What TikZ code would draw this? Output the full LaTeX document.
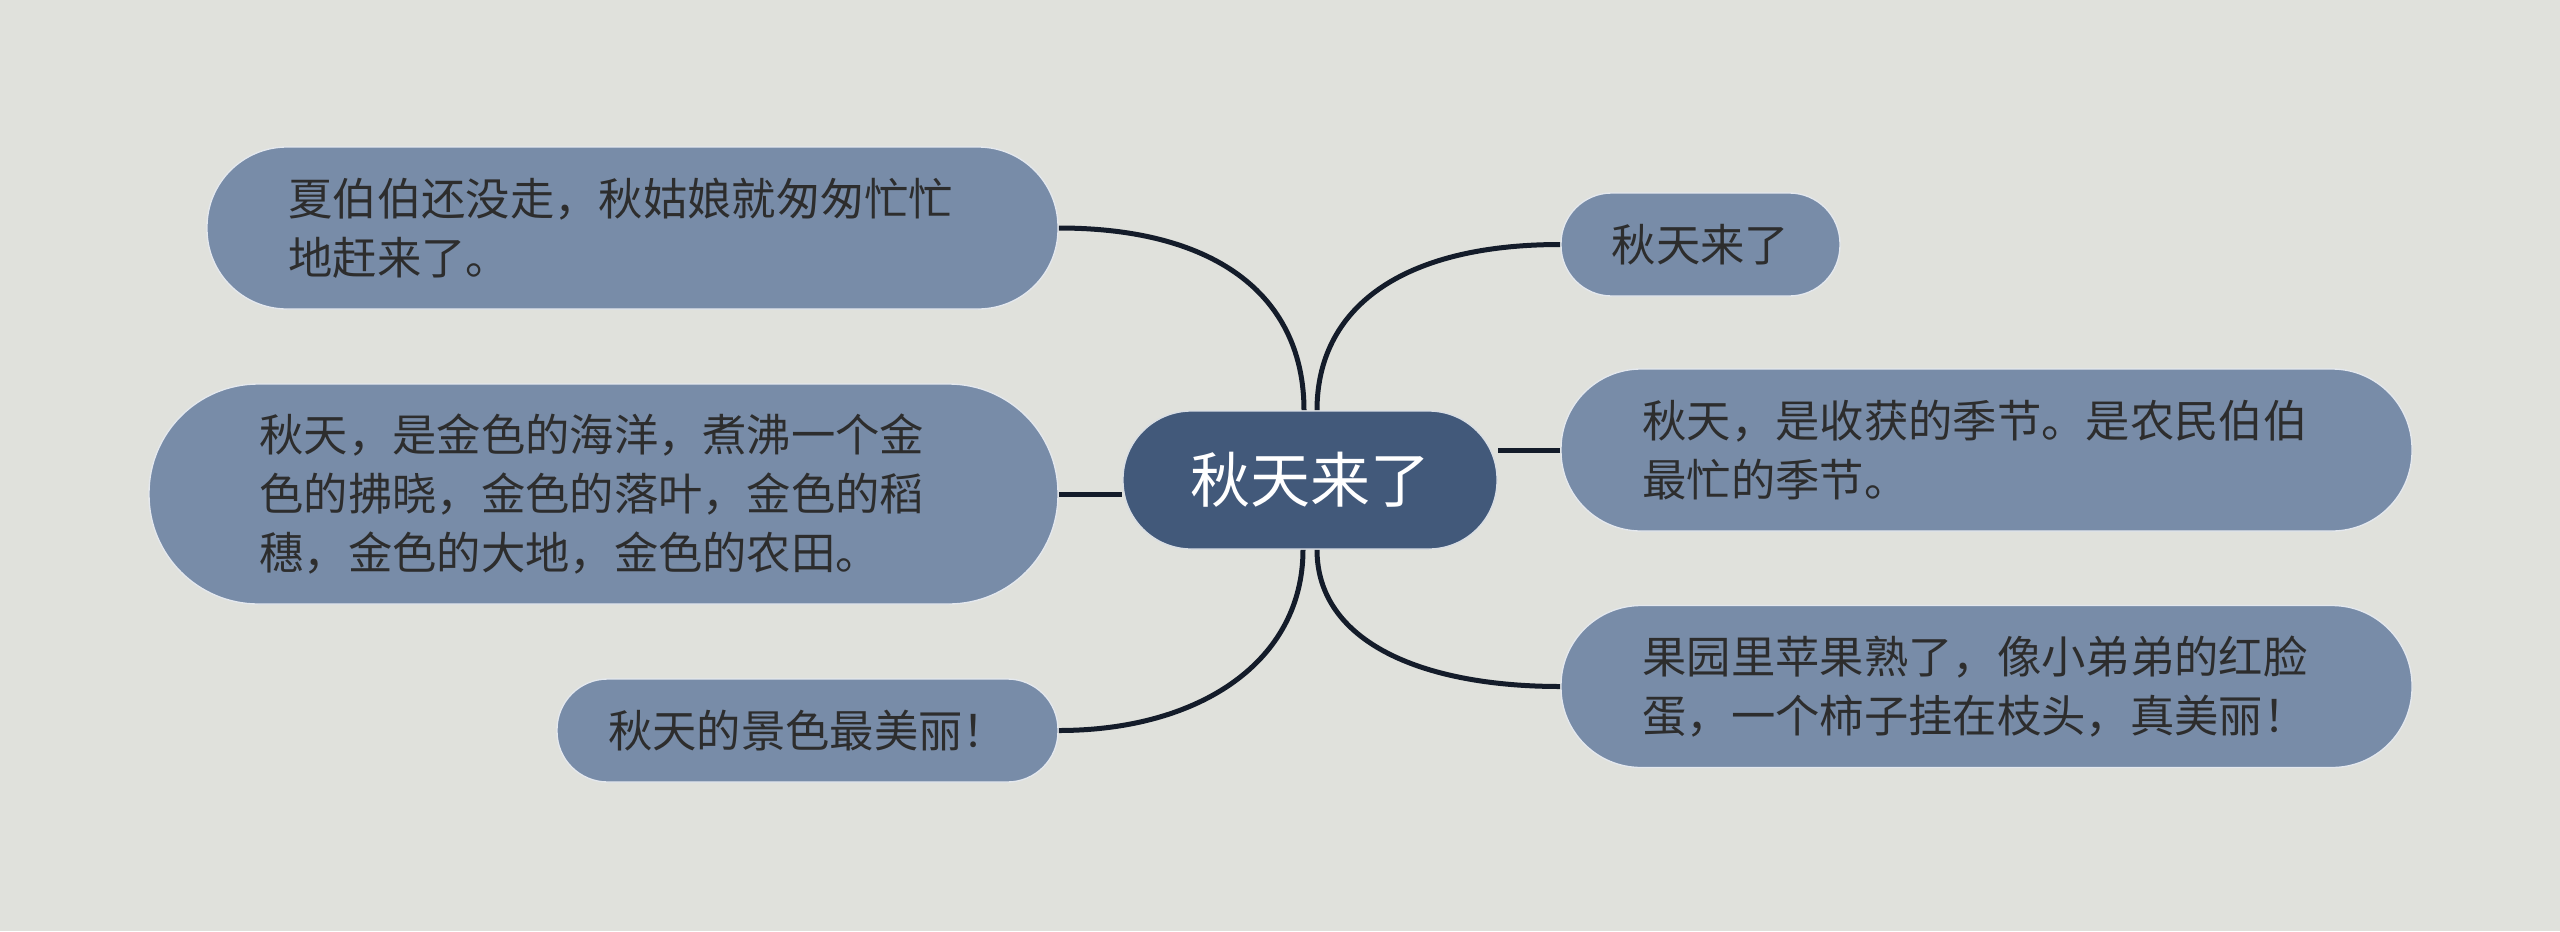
\documentclass[tikz,border=0pt]{standalone}
\usepackage{fontspec}
\setmainfont{Noto Sans CJK SC}
\usetikzlibrary{backgrounds}
\definecolor{bgc}{RGB}{224,225,220}
\definecolor{leafc}{RGB}{120,140,168}
\definecolor{rootc}{RGB}{66,89,122}
\definecolor{linec}{RGB}{20,28,42}
\definecolor{txtc}{RGB}{45,45,45}
\tikzset{
  leaf/.style={fill=leafc, draw=white!80!leafc, line width=0.4pt, text=txtc,
    font=\fontsize{13.3pt}{17.7pt}\selectfont, align=left, inner sep=0pt},
  bigleaf/.style={leaf, text width=206.5pt, minimum width=255.3pt, minimum height=48.6pt, rounded corners=24pt},
  smallleaf/.style={leaf, minimum height=30.9pt, rounded corners=15.2pt},
  rootnode/.style={fill=rootc, draw=white!80!rootc, line width=0.4pt, text=white,
    font=\fontsize{18pt}{22pt}\selectfont, inner sep=0pt,
    minimum width=112.2pt, minimum height=41.4pt, rounded corners=20.5pt},
  conn/.style={draw=linec, line width=1.5pt}
}
\begin{document}
\begin{tikzpicture}[x=0.3pt, y=-0.3pt]
\useasboundingbox (0,0) rectangle (2560,931);
\node[rootnode] (root) at (1310,480) {秋天来了};
\node[bigleaf] (L1) at (632.5,228) {夏伯伯还没走，秋姑娘就匆匆忙忙\\地赶来了。};
\node[leaf, text width=206.5pt, minimum width=272.7pt, minimum height=66pt, rounded corners=32.8pt] (L2) at (603.5,494)
  {秋天，是金色的海洋，煮沸一个金\\色的拂晓，金色的落叶，金色的稻\\穗，金色的大地，金色的农田。};
\node[smallleaf, minimum width=150.3pt] (L3) at (807.5,730.5) {秋天的景色最美丽！};
\node[smallleaf, minimum width=83.7pt] (R1) at (1700.5,244.5) {秋天来了};
\node[bigleaf] (R2) at (1986.5,450) {秋天，是收获的季节。是农民伯伯\\最忙的季节。};
\node[bigleaf] (R3) at (1986.5,686.5) {果园里苹果熟了，像小弟弟的红脸\\蛋，一个柿子挂在枝头，真美丽！};
\begin{pgfonlayer}{background}
\fill[bgc] (0,0) rectangle (2560,931);
\draw[conn] (L1.east) .. controls +(162,0) and +(0,-111) .. ([xshift=-1.8pt]root.north);
\draw[conn] (R1.west) .. controls +(-161,0) and +(0,-101) .. ([xshift=2.1pt]root.north);
\draw[conn] ([xshift=-2.1pt]root.south) .. controls +(0,111) and +(142,0) .. (L3.east);
\draw[conn] ([xshift=2.1pt]root.south) .. controls +(0,91) and +(-141,0) .. (R3.west);
\draw[conn] (L2.east) -- (L2.east -| root.west);
\draw[conn] (R2.west) -- (R2.west -| root.east);
\end{pgfonlayer}
\end{tikzpicture}
\end{document}
